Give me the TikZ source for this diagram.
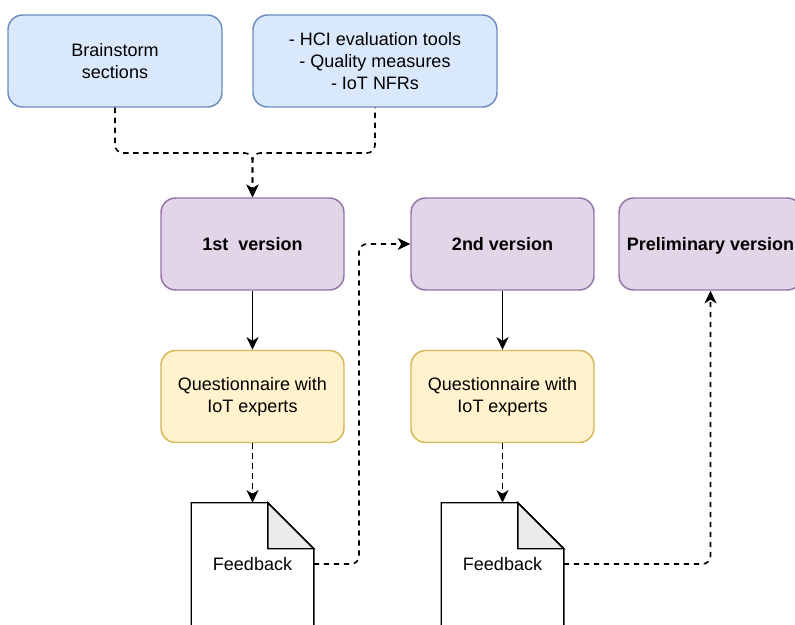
\documentclass[tikz,border=0pt]{standalone}
\usepackage{fontspec}
\setmainfont{Liberation Sans}
\usetikzlibrary{arrows.meta}
\definecolor{bluef}{HTML}{DAE8FC}
\definecolor{bluel}{HTML}{6C8EBF}
\definecolor{purpf}{HTML}{E1D5E7}
\definecolor{purpl}{HTML}{9673A6}
\definecolor{yelf}{HTML}{FFF2CC}
\definecolor{yell}{HTML}{D6B656}
\definecolor{foldg}{HTML}{EBEBEB}
\begin{document}
\begin{tikzpicture}[x=0.75pt,y=-0.75pt,
  box/.style={draw, rounded corners=11pt, line width=1.1pt, align=center, inner sep=0pt,
    minimum width=137.25pt, minimum height=69pt, font=\fontsize{13.5}{16.5}\selectfont},
  bluebox/.style={box, fill=bluef, draw=bluel},
  purpbox/.style={box, fill=purpf, draw=purpl, text depth=0pt, font=\fontsize{13.5}{16.5}\selectfont\bfseries},
  yelbox/.style={box, fill=yelf, draw=yell},
  docbox/.style={inner sep=0pt, minimum width=91.5pt, minimum height=91.5pt, font=\fontsize{13.5}{16.5}\selectfont},
  docline/.style={line width=1.1pt, line join=miter},
  arr/.style={-{Stealth[length=9.5pt,width=9pt,inset=2.8pt]}, line width=1.2pt},
  dsh/.style={dash pattern=on 4pt off 3.5pt, rounded corners=6pt}
]
\useasboundingbox (0,0) rectangle (795,624);
\clip (0,0) rectangle (795,624);

% top boxes
\node[bluebox, minimum width=160.5pt] (bs) at (115,61) {Brainstorm\\sections};
\node[bluebox, minimum width=183pt] (hci) at (375,61) {- HCI evaluation tools\\- Quality measures\\- IoT NFRs};

% versions
\node[purpbox] (v1) at (252.5,244) {1st\ \ version};
\node[purpbox] (v2) at (502.5,244) {2nd version};
\node[purpbox] (pre) at (710.5,244) {Preliminary version};

% questionnaires
\node[yelbox] (q1) at (252.5,396.5) {Questionnaire with\\IoT experts};
\node[yelbox] (q2) at (502.5,396.5) {Questionnaire with\\IoT experts};

% feedback documents
\node[docbox] (fb1) at (252.5,564) {Feedback};
\node[docbox] (fb2) at (502.5,564) {Feedback};
\foreach \d in {fb1,fb2}{
  \draw[docline] (\d.south west) -- (\d.north west) -- ([xshift=-34.5pt]\d.north east)
     -- ([yshift=-34.5pt]\d.north east) -- (\d.south east);
  \draw[docline, fill=foldg] ([xshift=-34.5pt]\d.north east) -- ([xshift=-34.5pt,yshift=-34.5pt]\d.north east)
     -- ([yshift=-34.5pt]\d.north east) -- cycle;
}

% connectors
\coordinate (m) at (252.5,153);
\coordinate (k1) at (359,244);
\draw[arr, dsh] (bs.south) |- (m) -- (v1.north);
\draw[arr, dsh, dash phase=3.75pt] (hci.south) |- (m) -- (v1.north);
\draw[arr] (v1.south) -- (q1.north);
\draw[arr] (v2.south) -- (q2.north);
\draw[arr, dsh] (q1.south) -- (fb1.north);
\draw[arr, dsh] (q2.south) -- (fb2.north);
\draw[arr, dsh] (fb1.east) -| (k1) -- (v2.west);
\draw[arr, dsh] (fb2.east) -| (pre.south);
\end{tikzpicture}
\end{document}
